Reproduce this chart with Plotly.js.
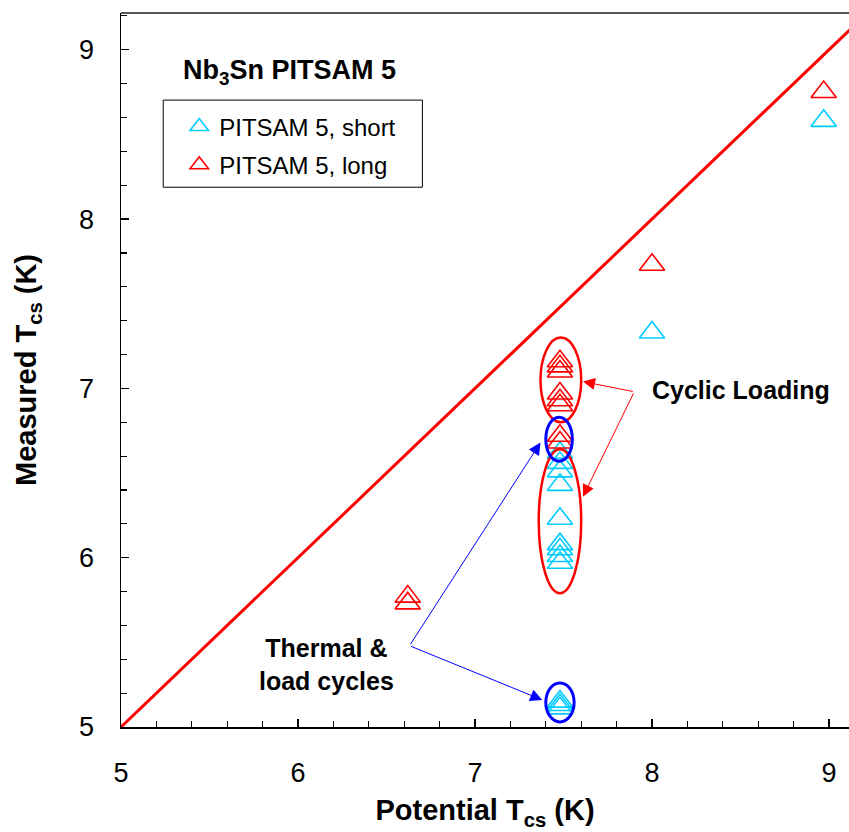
<!DOCTYPE html>
<html>
<head>
<meta charset="utf-8">
<script src="https://cdn.plot.ly/plotly-3.0.1.min.js"></script>
<style>html,body{margin:0;padding:0;background:#fff;}#chart{width:849px;height:832px;}</style>
</head>
<body>
<div id="chart"></div>
<script>
// Reference line: measured = potential
var lineX = [5, 9.2];
var lineY = [5, 9.2];

// PITSAM 5, short
var shortX = [7.48, 7.48, 7.48, 7.48, 7.48, 7.48, 7.48, 7.48, 7.48, 7.48, 7.48, 7.48, 8.00, 8.97];
var shortY = [5.15, 5.13, 5.11, 5.97, 6.01, 6.05, 6.08, 6.23, 6.43, 6.51, 6.56, 6.62, 7.33, 8.58];

// PITSAM 5, long
var longX = [6.62, 6.62, 7.48, 7.48, 7.48, 7.48, 7.48, 7.48, 7.48, 7.48, 8.00, 8.97];
var longY = [5.73, 5.77, 6.68, 6.72, 6.90, 6.93, 6.97, 7.10, 7.13, 7.16, 7.73, 8.75];

var seriesNames = ["PITSAM 5, short", "PITSAM 5, long"];
var xTicks = [5, 6, 7, 8, 9];
var yTicks = [5, 6, 7, 8, 9];

var FONT = "Liberation Sans, Arial, sans-serif";
var CYAN = "#00CCFF";
var RED = "#FF0000";
var BLUE = "#0000FF";

var traces = [
  {x: lineX, y: lineY, mode: "lines", line: {color: RED, width: 3}, showlegend: false, hoverinfo: "skip"},
  {x: shortX, y: shortY, mode: "markers", name: seriesNames[0], legendgroup: "a",
   marker: {symbol: "triangle-up-open", size: 22, color: CYAN, line: {color: CYAN, width: 1.6}}},
  {x: longX, y: longY, mode: "markers", name: seriesNames[1], legendgroup: "b",
   marker: {symbol: "triangle-up-open", size: 22, color: RED, line: {color: RED, width: 1.6}}}
];

function arrow(x, y, ax, ay, color) {
  return {x: x, y: y, ax: ax, ay: ay, xref: "x", yref: "y", axref: "x", ayref: "y",
          text: "", showarrow: true, arrowhead: 2, arrowsize: 2.4, arrowwidth: 1, arrowcolor: color};
}

var layout = {
  width: 849, height: 832,
  margin: {l: 121, r: 0, t: 13, b: 105, pad: 0},
  paper_bgcolor: "#fff", plot_bgcolor: "#fff",
  font: {family: FONT, color: "#000"},
  showlegend: true,
  legend: {x: 0.08, y: 0.872, xanchor: "left", yanchor: "top", bgcolor: "rgba(0,0,0,0)",
           borderwidth: 0, font: {family: FONT, size: 24, color: "#000"}, tracegroupgap: 4},
  xaxis: {
    range: [5, 9.113], tickvals: xTicks, ticktext: xTicks.map(String),
    ticks: "inside", ticklen: 8, tickwidth: 1.5, tickcolor: "#000",
    showline: true, linecolor: "#000", linewidth: 1.5, showgrid: false, zeroline: false,
    tickfont: {family: FONT, size: 27, color: "#000"}, ticklabelstandoff: 21,
    minor: {dtick: 0.2, tick0: 5, ticks: "inside", ticklen: 6, tickwidth: 1.2, tickcolor: "#000", showgrid: false},
    title: {text: "<b>Potential T<sub>cs</sub> (K)</b>", font: {family: FONT, size: 29, color: "#000"}, standoff: 13}
  },
  yaxis: {
    range: [5, 9.217], tickvals: yTicks, ticktext: yTicks.map(String),
    ticks: "inside", ticklen: 8, tickwidth: 1.5, tickcolor: "#000",
    showline: true, linecolor: "#000", linewidth: 1.5, showgrid: false, zeroline: false,
    tickfont: {family: FONT, size: 27, color: "#000"}, ticklabelstandoff: 20,
    minor: {dtick: 0.2, tick0: 5, ticks: "inside", ticklen: 6, tickwidth: 1.2, tickcolor: "#000", showgrid: false},
    title: {text: "<b>Measured T<sub>cs</sub> (K)</b>", font: {family: FONT, size: 29, color: "#000"}, standoff: 34}
  },
  shapes: [
    {type: "line", xref: "paper", yref: "paper", x0: 0, x1: 1, y0: 1, y1: 1, line: {color: "#555", width: 2}},
    {type: "rect", xref: "paper", yref: "paper", x0: 0.058, x1: 0.414, y0: 0.756, y1: 0.878, line: {color: "#000", width: 1}},
    {type: "circle", xref: "x", yref: "y", x0: 7.37, x1: 7.60, y0: 6.80, y1: 7.30, line: {color: RED, width: 2.5}},
    {type: "circle", xref: "x", yref: "y", x0: 7.36, x1: 7.60, y0: 5.79, y1: 6.64, line: {color: RED, width: 2.5}},
    {type: "circle", xref: "x", yref: "y", x0: 7.40, x1: 7.55, y0: 6.57, y1: 6.83, line: {color: BLUE, width: 3}},
    {type: "circle", xref: "x", yref: "y", x0: 7.40, x1: 7.56, y0: 5.03, y1: 5.26, line: {color: BLUE, width: 3}}
  ],
  annotations: [
    {xref: "paper", yref: "paper", x: 0.232, y: 0.917, xanchor: "center", yanchor: "middle", showarrow: false,
     text: "<b>Nb<sub>3</sub>Sn PITSAM 5</b>", font: {family: FONT, size: 27, color: "#000"}},
    {xref: "x", yref: "y", x: 7.99, y: 6.99, xanchor: "left", yanchor: "middle", showarrow: false,
     text: "<b>Cyclic Loading</b>", font: {family: FONT, size: 25, color: "#000"}},
    {xref: "x", yref: "y", x: 6.16, y: 5.37, xanchor: "center", yanchor: "middle", showarrow: false, align: "center",
     text: "<b>Thermal &amp;<br>load cycles</b>", font: {family: FONT, size: 25, color: "#000"}},
    arrow(7.61, 7.04, 7.90, 6.98, RED),
    arrow(7.61, 6.36, 7.90, 6.98, RED),
    arrow(7.37, 6.68, 6.63, 5.48, BLUE),
    arrow(7.38, 5.16, 6.63, 5.48, BLUE)
  ]
};

Plotly.newPlot("chart", traces, layout, {displayModeBar: false, staticPlot: true});
</script>
</body>
</html>
